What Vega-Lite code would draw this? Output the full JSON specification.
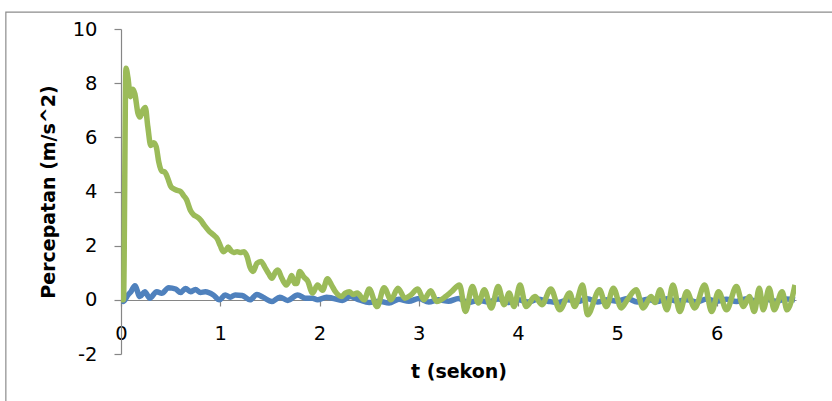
{
  "$schema": "https://vega.github.io/schema/vega-lite/v6.json",
  "width": 675,
  "height": 325,
  "autosize": {"type": "none"},
  "padding": {"left": 121, "top": 29, "right": 36, "bottom": 47},
  "background": "white",
  "config": {"view": {"stroke": null}, "font": "DejaVu Sans"},
  "datasets": {
    "blue": [
      {"t": 0, "a": 0}, {"t": 0.025, "a": -0.06}, {"t": 0.07, "a": 0.18}, {"t": 0.1, "a": 0.3}, {"t": 0.14, "a": 0.52},
      {"t": 0.19, "a": 0.12}, {"t": 0.24, "a": 0.3}, {"t": 0.29, "a": 0.06}, {"t": 0.36, "a": 0.3}, {"t": 0.41, "a": 0.24},
      {"t": 0.48, "a": 0.45}, {"t": 0.55, "a": 0.4}, {"t": 0.6, "a": 0.27}, {"t": 0.65, "a": 0.42}, {"t": 0.7, "a": 0.3},
      {"t": 0.75, "a": 0.38}, {"t": 0.8, "a": 0.27}, {"t": 0.85, "a": 0.3}, {"t": 0.93, "a": 0.18}, {"t": 0.99, "a": 0.0},
      {"t": 1.05, "a": 0.18}, {"t": 1.1, "a": 0.1}, {"t": 1.15, "a": 0.18}, {"t": 1.22, "a": 0.16}, {"t": 1.3, "a": 0.0},
      {"t": 1.37, "a": 0.2}, {"t": 1.43, "a": 0.1}, {"t": 1.52, "a": -0.06}, {"t": 1.6, "a": 0.1}, {"t": 1.68, "a": -0.02},
      {"t": 1.78, "a": 0.18}, {"t": 1.86, "a": 0.06}, {"t": 1.93, "a": 0.06}, {"t": 1.98, "a": 0.0}, {"t": 2.07, "a": 0.1},
      {"t": 2.13, "a": 0.06}, {"t": 2.23, "a": -0.02}, {"t": 2.31, "a": 0.12}, {"t": 2.4, "a": 0.0}, {"t": 2.5, "a": -0.1},
      {"t": 2.6, "a": -0.05}, {"t": 2.7, "a": -0.12}, {"t": 2.8, "a": 0.02}, {"t": 2.9, "a": -0.05}, {"t": 3.0, "a": 0.05},
      {"t": 3.1, "a": -0.08}, {"t": 3.2, "a": 0.0}, {"t": 3.3, "a": -0.05}, {"t": 3.4, "a": 0.05}, {"t": 3.5, "a": -0.1},
      {"t": 3.6, "a": -0.02}, {"t": 3.7, "a": -0.08}, {"t": 3.8, "a": 0.03}, {"t": 3.9, "a": -0.1}, {"t": 4.0, "a": 0.0},
      {"t": 4.1, "a": -0.08}, {"t": 4.2, "a": 0.02}, {"t": 4.3, "a": -0.05}, {"t": 4.4, "a": -0.1}, {"t": 4.5, "a": 0.0},
      {"t": 4.6, "a": -0.06}, {"t": 4.7, "a": 0.04}, {"t": 4.8, "a": -0.08}, {"t": 4.9, "a": 0.0}, {"t": 5.0, "a": -0.05},
      {"t": 5.1, "a": 0.05}, {"t": 5.2, "a": -0.08}, {"t": 5.3, "a": 0.02}, {"t": 5.4, "a": -0.06}, {"t": 5.5, "a": 0.04},
      {"t": 5.6, "a": -0.05}, {"t": 5.7, "a": 0.0}, {"t": 5.8, "a": -0.08}, {"t": 5.9, "a": 0.03}, {"t": 6.0, "a": -0.05},
      {"t": 6.1, "a": 0.02}, {"t": 6.2, "a": -0.06}, {"t": 6.3, "a": 0.04}, {"t": 6.4, "a": -0.04}, {"t": 6.5, "a": 0.02},
      {"t": 6.6, "a": -0.05}, {"t": 6.7, "a": 0.03}, {"t": 6.79, "a": 0.0}
    ],
    "green": [
      {"t": 0, "a": 0}, {"t": 0.025, "a": 0}, {"t": 0.05, "a": 8.55}, {"t": 0.07, "a": 8.2}, {"t": 0.095, "a": 7.5},
      {"t": 0.12, "a": 7.78}, {"t": 0.14, "a": 7.6}, {"t": 0.17, "a": 6.9}, {"t": 0.19, "a": 6.75}, {"t": 0.22, "a": 7.0},
      {"t": 0.245, "a": 7.1}, {"t": 0.27, "a": 6.4}, {"t": 0.3, "a": 5.7}, {"t": 0.33, "a": 5.8}, {"t": 0.355, "a": 5.65},
      {"t": 0.38, "a": 5.1}, {"t": 0.41, "a": 4.75}, {"t": 0.44, "a": 4.72}, {"t": 0.47, "a": 4.5}, {"t": 0.5, "a": 4.2},
      {"t": 0.53, "a": 4.1}, {"t": 0.56, "a": 4.05}, {"t": 0.6, "a": 4.0}, {"t": 0.63, "a": 3.85}, {"t": 0.66, "a": 3.7},
      {"t": 0.7, "a": 3.3}, {"t": 0.73, "a": 3.15}, {"t": 0.77, "a": 3.05}, {"t": 0.8, "a": 2.95}, {"t": 0.84, "a": 2.75},
      {"t": 0.885, "a": 2.55}, {"t": 0.93, "a": 2.4}, {"t": 0.97, "a": 2.25}, {"t": 1.0, "a": 2.0}, {"t": 1.03, "a": 1.78},
      {"t": 1.06, "a": 1.85}, {"t": 1.08, "a": 1.95}, {"t": 1.11, "a": 1.8}, {"t": 1.14, "a": 1.75}, {"t": 1.17, "a": 1.78},
      {"t": 1.2, "a": 1.75}, {"t": 1.24, "a": 1.78}, {"t": 1.27, "a": 1.6}, {"t": 1.3, "a": 1.2}, {"t": 1.33, "a": 1.05},
      {"t": 1.37, "a": 1.35}, {"t": 1.41, "a": 1.42}, {"t": 1.45, "a": 1.2}, {"t": 1.49, "a": 0.95}, {"t": 1.52, "a": 0.8},
      {"t": 1.56, "a": 1.05}, {"t": 1.58, "a": 1.1}, {"t": 1.62, "a": 0.8}, {"t": 1.665, "a": 0.55}, {"t": 1.7, "a": 0.75},
      {"t": 1.72, "a": 0.9}, {"t": 1.75, "a": 0.6}, {"t": 1.77, "a": 0.6}, {"t": 1.8, "a": 1.05}, {"t": 1.84, "a": 0.85},
      {"t": 1.88, "a": 0.7}, {"t": 1.93, "a": 0.25}, {"t": 1.98, "a": 0.55}, {"t": 2.03, "a": 0.35}, {"t": 2.08, "a": 0.78},
      {"t": 2.12, "a": 0.55}, {"t": 2.16, "a": 0.3}, {"t": 2.22, "a": 0.12}, {"t": 2.26, "a": 0.25}, {"t": 2.3, "a": 0.3},
      {"t": 2.34, "a": 0.2}, {"t": 2.38, "a": 0.25}, {"t": 2.45, "a": 0.0}, {"t": 2.5, "a": 0.4}, {"t": 2.58, "a": -0.25},
      {"t": 2.65, "a": 0.45}, {"t": 2.72, "a": 0.0}, {"t": 2.79, "a": 0.43}, {"t": 2.86, "a": 0.06}, {"t": 2.92, "a": 0.18},
      {"t": 2.99, "a": 0.4}, {"t": 3.05, "a": 0.0}, {"t": 3.12, "a": 0.34}, {"t": 3.18, "a": -0.06}, {"t": 3.27, "a": 0.12},
      {"t": 3.33, "a": 0.3}, {"t": 3.41, "a": 0.55}, {"t": 3.47, "a": -0.43}, {"t": 3.54, "a": 0.49}, {"t": 3.6, "a": -0.12},
      {"t": 3.66, "a": 0.37}, {"t": 3.73, "a": -0.3}, {"t": 3.8, "a": 0.49}, {"t": 3.86, "a": -0.18}, {"t": 3.91, "a": 0.25},
      {"t": 3.96, "a": -0.25}, {"t": 4.02, "a": 0.55}, {"t": 4.08, "a": -0.25}, {"t": 4.17, "a": 0.12}, {"t": 4.24, "a": -0.18},
      {"t": 4.33, "a": 0.4}, {"t": 4.42, "a": -0.37}, {"t": 4.52, "a": 0.25}, {"t": 4.57, "a": -0.25}, {"t": 4.65, "a": 0.55},
      {"t": 4.7, "a": -0.55}, {"t": 4.82, "a": 0.37}, {"t": 4.89, "a": -0.25}, {"t": 4.96, "a": 0.43}, {"t": 5.04, "a": -0.3},
      {"t": 5.1, "a": 0.0}, {"t": 5.19, "a": 0.37}, {"t": 5.26, "a": -0.3}, {"t": 5.34, "a": 0.12}, {"t": 5.38, "a": -0.1},
      {"t": 5.43, "a": 0.37}, {"t": 5.5, "a": -0.37}, {"t": 5.56, "a": 0.55}, {"t": 5.63, "a": -0.43}, {"t": 5.7, "a": 0.3},
      {"t": 5.78, "a": -0.3}, {"t": 5.88, "a": 0.55}, {"t": 5.95, "a": -0.43}, {"t": 6.02, "a": 0.3}, {"t": 6.1, "a": -0.37},
      {"t": 6.2, "a": 0.49}, {"t": 6.27, "a": -0.25}, {"t": 6.33, "a": 0.12}, {"t": 6.38, "a": -0.43}, {"t": 6.43, "a": 0.43},
      {"t": 6.47, "a": -0.37}, {"t": 6.53, "a": 0.43}, {"t": 6.58, "a": -0.37}, {"t": 6.66, "a": 0.3}, {"t": 6.71, "a": -0.37},
      {"t": 6.79, "a": 0.55}
    ]
  },
  "layer": [
    {
      "data": {"name": "blue"},
      "mark": {"type": "line", "color": "#4F81BD", "strokeWidth": 5.5, "interpolate": "monotone", "clip": true},
      "encoding": {
        "x": {
          "field": "t", "type": "quantitative",
          "scale": {"domain": [0, 6.8], "nice": false, "zero": false},
          "axis": {
            "title": "t (sekon)", "values": [0, 1, 2, 3, 4, 5, 6], "labelExpr": "'' + datum.value", "offset": -54,
            "labelFlush": false, "grid": false, "domainColor": "#868686", "domainWidth": 1.2, "tickColor": "#868686", "tickWidth": 1.2, "tickSize": 6,
            "labelFont": "DejaVu Sans", "labelFontSize": 19.5, "labelColor": "#000000", "labelPadding": 18,
            "titleFont": "DejaVu Sans", "titleFontSize": 19, "titleFontWeight": "bold", "titleColor": "#000000", "titlePadding": 20
          }
        },
        "y": {
          "field": "a", "type": "quantitative",
          "scale": {"domain": [-2, 10], "nice": false, "zero": false},
          "axis": {
            "title": "Percepatan (m/s^2)", "values": [-2, 0, 2, 4, 6, 8, 10], "labelExpr": "'' + datum.value",
            "labelFlush": false, "grid": false, "domainColor": "#868686", "domainWidth": 1.2, "tickColor": "#868686", "tickWidth": 1.2, "tickSize": 7,
            "labelFont": "DejaVu Sans", "labelFontSize": 19.5, "labelColor": "#000000", "labelPadding": 17,
            "titleFont": "DejaVu Sans", "titleFontSize": 19, "titleFontWeight": "bold", "titleColor": "#000000", "titlePadding": 14
          }
        }
      }
    },
    {
      "data": {"name": "green"},
      "mark": {"type": "line", "color": "#9BBB59", "strokeWidth": 5.5, "interpolate": "monotone", "clip": true},
      "encoding": {
        "x": {"field": "t", "type": "quantitative", "scale": {"domain": [0, 6.8], "nice": false, "zero": false}},
        "y": {"field": "a", "type": "quantitative", "scale": {"domain": [-2, 10], "nice": false, "zero": false}}
      }
    },
    {
      "data": {"values": [{}]},
      "mark": {"type": "rect", "fill": null, "stroke": "#8c8c8c", "strokeWidth": 1.2, "clip": false},
      "encoding": {
        "x": {"datum": -1.16, "type": "quantitative", "scale": {"domain": [0, 6.8], "nice": false, "zero": false}},
        "x2": {"datum": 7.6},
        "y": {"datum": 10.62, "type": "quantitative", "scale": {"domain": [-2, 10], "nice": false, "zero": false}},
        "y2": {"datum": -5}
      }
    }
  ]
}
